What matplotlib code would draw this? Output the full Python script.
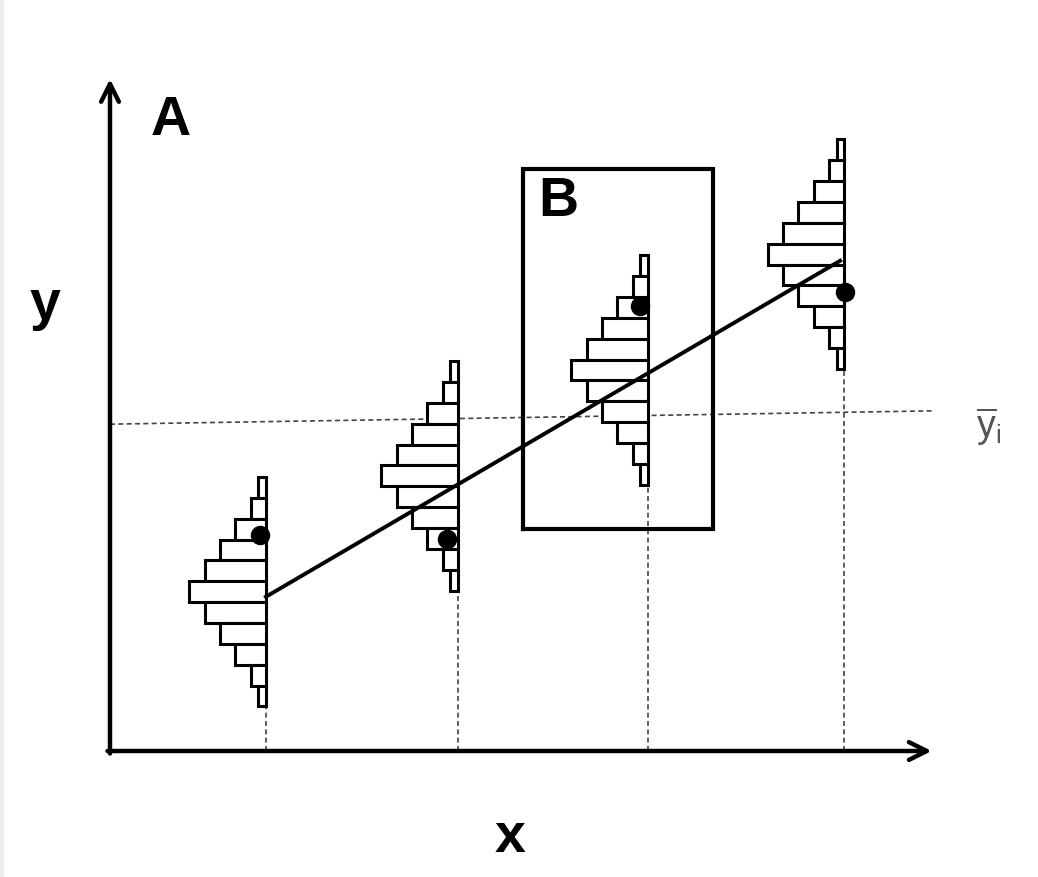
import numpy as np
import matplotlib.pyplot as plt

# histogram columns: right edge x, centre y of widest bar
hist_x = [1.89, 4.22, 6.52, 8.90]
hist_center = [1.91, 3.30, 4.57, 5.96]
# bar lengths (same shape for every histogram), top to bottom
counts = [1, 2, 4, 6, 8, 10, 8, 6, 4, 2, 1]
count_unit = 0.093
bar_h = 0.25

# observed points
obs_x = [1.82, 4.08, 6.42, 8.91]
obs_y = [2.59, 2.54, 5.34, 5.51]

# regression line end points
line_x = [1.89, 8.85]
line_y = [1.85, 5.88]

# mean line (drawn slightly tilted in the original)
mean_x = [0.0, 10.0]
mean_y = [3.92, 4.08]

# box B
box_x = [5.0, 7.31]
box_y = [2.66, 6.98]

fig = plt.figure(figsize=(10.38, 8.78), dpi=100)
# faint grey strip at the left edge of the original picture
fig.patches.append(plt.Rectangle((0, 0), 3 / 1038, 1, transform=fig.transFigure,
                                 color='#eeeeee', zorder=0))
ax = fig.add_axes([110 / 1038, 126 / 878, 825 / 1038, 667 / 878])
ax.set_xlim(0, 10)
ax.set_ylim(0, 8)
ax.axis('off')

# vertical dashed lines down to the x axis
for hx, hc in zip(hist_x, hist_center):
    ax.plot([hx, hx], [0, hc], ls=(0, (3, 2)), color='#444444', lw=1.2, zorder=1)

# mean line
ax.plot(mean_x, mean_y, ls=(0, (3, 2)), color='#444444', lw=1.2, zorder=1)

# histograms
w = np.array(counts) * count_unit
for hx, hc in zip(hist_x, hist_center):
    ys = hc + (5 - np.arange(len(counts))) * bar_h
    ax.barh(ys, w, left=hx - w, height=bar_h, color='white',
            edgecolor='black', lw=2.2, zorder=2)

# regression line
ax.plot(line_x, line_y, color='black', lw=2.8, zorder=3)

# observations
ax.plot(obs_x, obs_y, 'o', color='black', ms=13, zorder=4)

# box B
ax.plot([box_x[0], box_x[1], box_x[1], box_x[0], box_x[0]],
        [box_y[0], box_y[0], box_y[1], box_y[1], box_y[0]],
        color='black', lw=3, zorder=3, solid_joinstyle='miter')

# axes with arrows
arr = dict(arrowstyle='->', lw=3.2, color='black', mutation_scale=32,
           shrinkA=0, shrinkB=0)
ax.annotate('', xy=(0, 8.06), xytext=(0, -0.03), arrowprops=arr, annotation_clip=False)
ax.annotate('', xy=(9.96, 0), xytext=(-0.03, 0), arrowprops=arr, annotation_clip=False)

font = dict(family='Liberation Sans', fontweight='bold', fontsize=40,
            ha='center', va='center')
ax.text(0.73, 7.57, 'A', **font)
ax.text(5.43, 6.60, 'B', **font)
ax.text(-0.79, 5.36, 'y', **font)
ax.text(4.85, -1.03, 'x', **font)
ax.text(10.65, 3.90, r'$\overline{\mathregular{y}}_{\mathregular{i}}$', color='#555555',
        fontsize=27, family='Liberation Sans', ha='center', va='center')

fig.savefig('out.png', dpi=100)
